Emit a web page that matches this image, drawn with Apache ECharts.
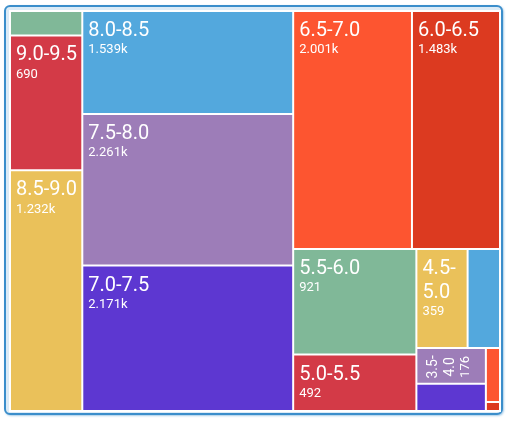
<!DOCTYPE html>
<html>
<head>
<meta charset="utf-8">
<script src="https://cdn.jsdelivr.net/npm/echarts@6/dist/echarts.min.js"></script>
<style>
html,body{margin:0;padding:0;background:#fff;}
#frame{position:absolute;left:4px;top:5px;width:495px;height:406px;border:2px solid #3b8ecb;border-radius:6px;background:#dcebf6;box-shadow:1px 1px 2px rgba(59,142,203,0.45);}
#chart{position:absolute;left:0;top:0;width:506px;height:421px;}
</style>
</head>
<body>
<div id="frame"></div>
<div id="chart"></div>
<script>
const categories = ['9.5-10.0','9.0-9.5','8.5-9.0','8.0-8.5','7.5-8.0','7.0-7.5','6.5-7.0','6.0-6.5','5.5-6.0','5.0-5.5','4.5-5.0','4.0-4.5','3.5-4.0','3.0-3.5','2.5-3.0','2.0-2.5'];
const counts = [125, 690, 1232, 1539, 2261, 2171, 2001, 1483, 921, 492, 359, 227, 176, 134, 54, 9];
const hiddenLabels = ['9.5-10.0','4.0-4.5','3.0-3.5','2.5-3.0','2.0-2.5'];
const wrappedLabels = ['4.5-5.0','3.5-4.0'];
const rotatedLabels = ['3.5-4.0'];
const palette = ['#80b898','#d33a47','#eac15a','#53a8dd','#9d7db8','#5d37d1','#fd5530','#dc3a20'];

function fmt(v){ return v >= 1000 ? (v/1000).toFixed(3) + 'k' : String(v); }
function nameLines(name, tag){
  if (wrappedLabels.includes(name)) {
    const parts = name.split('-');
    return '{' + tag + '|' + parts[0] + '-}\n{' + tag + '|' + parts[1] + '}';
  }
  return '{' + tag + '|' + name + '}';
}

const data = categories.map((name, i) => {
  const item = { name: name, value: counts[i], itemStyle: { color: palette[i % palette.length] } };
  if (hiddenLabels.includes(name)) item.label = { show: false };
  if (rotatedLabels.includes(name)) {
    item.label = {
      show: true, position: 'inside', rotate: 90, overflow: 'none',
      padding: [-14, 0, -14, 0],
      offset: [-1, 5],
      formatter: nameLines(name, 's') + '\n{t|' + fmt(counts[i]) + '}',
      rich: {
        s: { fontSize: 14, color: '#fff', fontFamily: 'Roboto', lineHeight: 17 },
        t: { fontSize: 13, color: '#fff', fontFamily: 'Roboto', lineHeight: 14 }
      }
    };
  }
  return item;
});

const chart = echarts.init(document.getElementById('chart'));
chart.setOption({
  animation: false,
  series: [{
    type: 'treemap',
    left: 9, top: 10,
    width: 492, height: 402,
    roam: false,
    nodeClick: false,
    sort: false,
    squareRatio: 1.57,
    breadcrumb: { show: false },
    itemStyle: { borderColor: '#fff', borderWidth: 1, gapWidth: 0 },
    label: {
      show: true,
      position: 'insideTopLeft',
      distance: 0,
      padding: [7, 5, 5, 5],
      overflow: 'none',
      formatter: p => nameLines(p.name, 'n') + '\n{v|' + fmt(p.value) + '}',
      rich: {
        n: { fontSize: 20, color: '#fff', fontFamily: 'Roboto', lineHeight: 24 },
        v: { fontSize: 13, color: '#fff', fontFamily: 'Roboto', lineHeight: 14 }
      }
    },
    data: data
  }]
});
</script>
</body>
</html>
